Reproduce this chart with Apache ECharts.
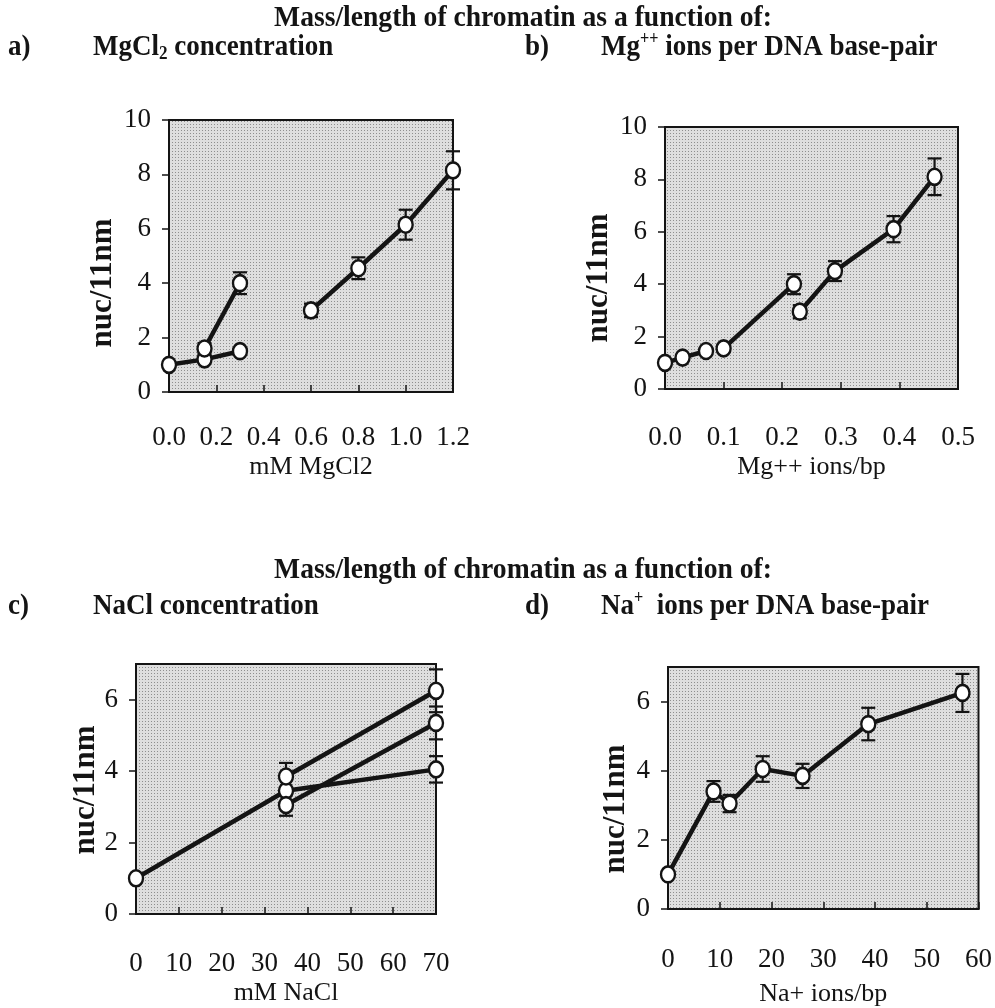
<!DOCTYPE html>
<html>
<head>
<meta charset="utf-8">
<script src="https://cdn.jsdelivr.net/npm/echarts@6/dist/echarts.min.js"></script>
<style>
  html, body { margin: 0; padding: 0; background: #ffffff; }
  #chart { width: 995px; height: 1008px; }
</style>
</head>
<body>
<div id="chart"></div>
<script>
// ---- a) nuc/11nm vs MgCl2 concentration (mM) ----
const mgclA_x = [0, 0.15, 0.3];
const mgclA_y = [1.0, 1.2, 1.5];
const mgclA_err = [0, 0, 0];
const mgclB_x = [0.15, 0.3];
const mgclB_y = [1.6, 4.0];
const mgclB_err = [0.2, 0.4];
const mgclC_x = [0.6, 0.8, 1.0, 1.2];
const mgclC_y = [3.0, 4.55, 6.15, 8.15];
const mgclC_err = [0.25, 0.4, 0.55, 0.7];

// ---- b) nuc/11nm vs Mg++ ions per base pair ----
const mgbpA_x = [0, 0.03, 0.07];
const mgbpA_y = [1.0, 1.2, 1.45];
const mgbpA_err = [0, 0, 0];
const mgbpB_x = [0.1, 0.22];
const mgbpB_y = [1.55, 4.0];
const mgbpB_err = [0.15, 0.38];
const mgbpC_x = [0.23, 0.29, 0.39, 0.46];
const mgbpC_y = [2.95, 4.5, 6.1, 8.1];
const mgbpC_err = [0.25, 0.38, 0.5, 0.7];

// ---- c) nuc/11nm vs NaCl concentration (mM) ----
const naclA_x = [0, 35, 70];
const naclA_y = [1.0, 3.45, 4.05];
const naclA_err = [0, 0, 0.37];
const naclB_x = [35, 70];
const naclB_y = [3.85, 6.25];
const naclB_err = [0.38, 0.6];
const naclC_x = [35, 70];
const naclC_y = [3.05, 5.35];
const naclC_err = [0.3, 0.46];

// ---- d) nuc/11nm vs Na+ ions per base pair ----
const nabp_x = [0, 8.8, 11.9, 18.3, 26, 38.7, 56.9];
const nabp_y = [1.0, 3.4, 3.05, 4.05, 3.85, 5.35, 6.25];
const nabp_err = [0, 0.3, 0.25, 0.37, 0.35, 0.47, 0.55];

// ---- text ----
const mainTitle = 'Mass/length of chromatin as a function of:';
const yAxisTitle = 'nuc/11nm';
const xTitles = ['mM MgCl2', 'Mg++ ions/bp', 'mM NaCl', 'Na+ ions/bp'];

const INK = '#141414';
const SERIF = '"Liberation Serif", "Times New Roman", serif';

// stippled grey plot background
function stipple() {
  const c = document.createElement('canvas');
  c.width = 3; c.height = 3;
  const g = c.getContext('2d');
  g.fillStyle = '#dedede';
  g.fillRect(0, 0, 3, 3);
  g.fillStyle = '#8e8e8e';
  g.fillRect(1, 1, 1, 1);
  return { image: c, repeat: 'repeat' };
}
const fillPattern = stipple();

const gridBoxes = [
  { left: 169, top: 120, width: 284, height: 272 },
  { left: 665, top: 127, width: 293, height: 262 },
  { left: 136, top: 664, width: 300, height: 250 },
  { left: 668, top: 667, width: 312, height: 246 }
];

const grids = gridBoxes.map(b => Object.assign({
  show: true,
  backgroundColor: fillPattern,
  borderColor: INK,
  borderWidth: 2,
  containLabel: false
}, b));

function xAxisOf(gi, min, max, interval, name, digits, margin, gap) {
  return {
    type: 'value', gridIndex: gi, min, max, interval,
    name, nameLocation: 'middle', nameGap: gap,
    nameTextStyle: { fontFamily: SERIF, fontSize: 26, color: INK },
    axisLine: { show: true, onZero: false, lineStyle: { color: INK, width: 2 } },
    axisTick: { show: true, inside: true, length: 7, lineStyle: { color: INK, width: 1.5 } },
    axisLabel: {
      fontFamily: SERIF, fontSize: 27, color: INK, margin,
      formatter: v => v.toFixed(digits)
    },
    splitLine: { show: false }
  };
}

function yAxisOf(gi, max) {
  return {
    type: 'value', gridIndex: gi, min: 0, max, interval: 2,
    axisLine: { show: true, onZero: false, lineStyle: { color: INK, width: 2 } },
    axisTick: { show: true, inside: false, length: 7, lineStyle: { color: INK, width: 1.5 } },
    axisLabel: {
      fontFamily: SERIF, fontSize: 27, color: INK, margin: 18,
      showMaxLabel: max % 2 === 0,
      formatter: v => (v % 2 === 0 ? String(v) : '')
    },
    splitLine: { show: false }
  };
}

function zip(xs, ys) { return xs.map((x, i) => [x, ys[i]]); }
function zip3(xs, ys, es) { return xs.map((x, i) => [x, ys[i], es[i]]); }

function lineSeries(gi, xs, ys) {
  return {
    type: 'line', xAxisIndex: gi, yAxisIndex: gi,
    data: zip(xs, ys),
    symbol: 'circle', symbolSize: [14, 16],
    showAllSymbol: true,
    clip: false, silent: true, animation: false, z: 4,
    lineStyle: { color: INK, width: 4.5 },
    itemStyle: { color: '#ffffff', borderColor: INK, borderWidth: 2.5 }
  };
}

function errorBars(params, api) {
  const x = api.value(0), y = api.value(1), e = api.value(2);
  if (!e) return null;
  const hi = api.coord([x, y + e]);
  const lo = api.coord([x, y - e]);
  const hw = 7;
  const st = { stroke: INK, lineWidth: 2.2, fill: null };
  return {
    type: 'group',
    children: [
      { type: 'line', shape: { x1: hi[0], y1: hi[1], x2: lo[0], y2: lo[1] }, style: st },
      { type: 'line', shape: { x1: hi[0] - hw, y1: hi[1], x2: hi[0] + hw, y2: hi[1] }, style: st },
      { type: 'line', shape: { x1: lo[0] - hw, y1: lo[1], x2: lo[0] + hw, y2: lo[1] }, style: st }
    ]
  };
}

function errSeries(gi, xs, ys, es) {
  return {
    type: 'custom', xAxisIndex: gi, yAxisIndex: gi,
    renderItem: errorBars, data: zip3(xs, ys, es),
    encode: { x: 0, y: 1 },
    silent: true, animation: false, z: 3
  };
}

const panels = [
  [0, mgclA_x, mgclA_y, mgclA_err], [0, mgclB_x, mgclB_y, mgclB_err], [0, mgclC_x, mgclC_y, mgclC_err],
  [1, mgbpA_x, mgbpA_y, mgbpA_err], [1, mgbpB_x, mgbpB_y, mgbpB_err], [1, mgbpC_x, mgbpC_y, mgbpC_err],
  [2, naclA_x, naclA_y, naclA_err], [2, naclB_x, naclB_y, naclB_err], [2, naclC_x, naclC_y, naclC_err],
  [3, nabp_x, nabp_y, nabp_err]
];

const series = [];
panels.forEach(p => {
  series.push(errSeries(p[0], p[1], p[2], p[3]));
  series.push(lineSeries(p[0], p[1], p[2]));
});

// headings (narrow bold serif) and rotated y-axis titles
const rich = {
  sub: { font: 'bold 19px ' + SERIF, fill: INK, lineHeight: 19, verticalAlign: 'bottom' },
  sup: { font: 'bold 18px ' + SERIF, fill: INK, lineHeight: 18, verticalAlign: 'top' }
};
function head(x, y, text, size, sx, align) {
  return {
    type: 'text', x, y, scaleX: sx, silent: true,
    style: {
      text, font: 'bold ' + size + 'px ' + SERIF, fill: INK, rich,
      textAlign: align || 'left', textVerticalAlign: 'middle', lineHeight: size + 3
    }
  };
}
function yTitle(x, y) {
  return {
    type: 'text', x, y, rotation: Math.PI / 2, silent: true,
    style: {
      text: yAxisTitle, font: 'bold 31px ' + SERIF, fill: INK,
      textAlign: 'center', textVerticalAlign: 'middle'
    }
  };
}

const graphic = [
  head(523, 18, mainTitle, 30, 0.92, 'center'),
  head(8, 47, 'a)', 30, 0.9),
  head(93, 47, 'MgCl{sub|2} concentration', 30, 0.9),
  head(525, 47, 'b)', 30, 0.9),
  head(601, 47, 'Mg{sup|++} ions per DNA base-pair', 30, 0.9),
  head(523, 570, mainTitle, 30, 0.92, 'center'),
  head(8, 606, 'c)', 30, 0.9),
  head(93, 606, 'NaCl concentration', 30, 0.9),
  head(525, 606, 'd)', 30, 0.9),
  head(601, 606, 'Na{sup|+}  ions per DNA base-pair', 30, 0.9),
  yTitle(103, 283),
  yTitle(599, 278),
  yTitle(86, 790),
  yTitle(616, 809)
];

const chart = echarts.init(document.getElementById('chart'), null, { renderer: 'canvas' });
chart.setOption({
  backgroundColor: '#ffffff',
  animation: false,
  grid: grids,
  xAxis: [
    xAxisOf(0, 0, 1.2, 0.2, xTitles[0], 1, 32, 62),
    xAxisOf(1, 0, 0.5, 0.1, xTitles[1], 1, 35, 65),
    xAxisOf(2, 0, 70, 10, xTitles[2], 0, 36, 66),
    xAxisOf(3, 0, 60, 10, xTitles[3], 0, 37, 72)
  ],
  yAxis: [yAxisOf(0, 10), yAxisOf(1, 10), yAxisOf(2, 7), yAxisOf(3, 7)],
  series,
  graphic
});
</script>
</body>
</html>
